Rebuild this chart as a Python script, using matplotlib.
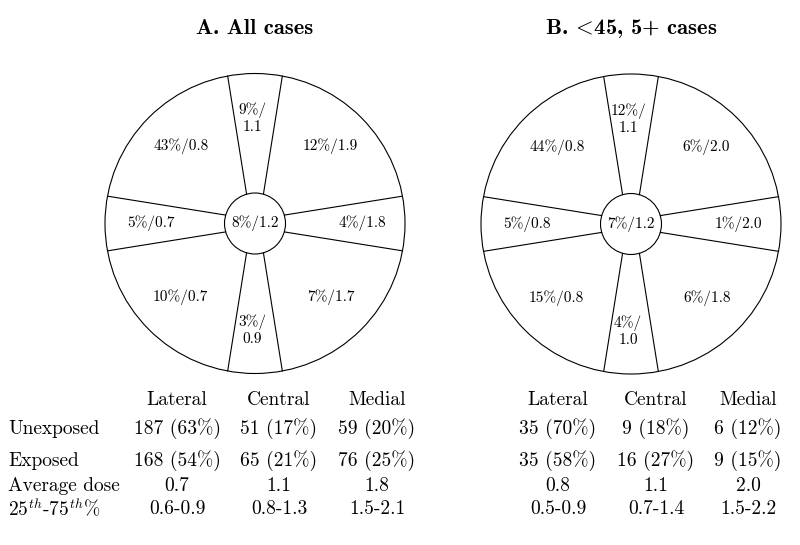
import numpy as np
import matplotlib
matplotlib.use("Agg")
import matplotlib.pyplot as plt
from matplotlib.patches import Circle

plt.rcParams['mathtext.fontset'] = 'cm'
plt.rcParams['font.family'] = 'cmr10'
plt.rcParams['axes.unicode_minus'] = False

# sectors: upper-left, upper-mid, upper-right, left, centre, right, lower-left, lower-mid, lower-right
pct_A = [43, 9, 12, 5, 8, 4, 10, 3, 7]
dose_A = [0.8, 1.1, 1.9, 0.7, 1.2, 1.8, 0.7, 0.9, 1.7]
pct_B = [44, 12, 6, 5, 7, 1, 15, 4, 6]
dose_B = [0.8, 1.1, 2.0, 0.8, 1.2, 2.0, 0.8, 1.0, 1.8]

columns = ['Lateral', 'Central', 'Medial']
row_labels = ['Unexposed', 'Exposed', 'Average dose', r'25$^{th}$-75$^{th}$%']

unexp_n_A = [187, 51, 59]
unexp_pct_A = [63, 17, 20]
exp_n_A = [168, 65, 76]
exp_pct_A = [54, 21, 25]
avg_A = [0.7, 1.1, 1.8]
iqr_A = ['0.6-0.9', '0.8-1.3', '1.5-2.1']

unexp_n_B = [35, 9, 6]
unexp_pct_B = [70, 18, 12]
exp_n_B = [35, 16, 9]
exp_pct_B = [58, 27, 15]
avg_B = [0.8, 1.1, 2.0]
iqr_B = ['0.5-0.9', '0.7-1.4', '1.5-2.2']

fig = plt.figure(figsize=(8, 5.45), dpi=100)
ax = fig.add_axes([0, 0, 1, 1])
ax.set_xlim(0, 800)
ax.set_ylim(545, 0)
ax.axis('off')

R, r = 150, 30.5
a_out, a_in = np.radians(10.5), np.radians(16)

# label offsets (dx, dy) relative to centre, per sector
offs = [(-74, -77), (-3, -105), (75, -77),
        (-104, 0), (0, 0), (107, 0),
        (-75, 74), (-3, 107), (76, 74)]


def wheel(cx, cy, title, pcts, doses):
    ax.add_patch(Circle((cx, cy), R, fill=False, lw=0.8, ec='black'))
    ax.add_patch(Circle((cx, cy), r, fill=False, lw=0.8, ec='black'))
    # 8 spokes: around each axis direction
    for base in [90, 270, 0, 180]:
        b = np.radians(base)
        for s in (-1, 1):
            ti = b + s * a_in
            to = b + s * a_out
            ax.plot([cx + r * np.cos(ti), cx + R * np.cos(to)],
                    [cy - r * np.sin(ti), cy - R * np.sin(to)],
                    color='black', lw=0.8)
    for i, (p, d) in enumerate(zip(pcts, doses)):
        dx, dy = offs[i]
        if i in (1, 7):
            s = f'{p}%/\n{d:.1f}'
        else:
            s = f'{p}%/{d:.1f}'
        ax.text(cx + dx, cy + dy, s, ha='center', va='center', fontsize=11,
                multialignment='center', linespacing=1.2)
    ax.text(cx, 28, title, ha='center', va='center', fontsize=16.3,
            family='cmb10')


wheel(255, 223.5, 'A. All cases', pct_A, dose_A)
wheel(631, 224, r'B. $\!<\!$45, 5+ cases', pct_B, dose_B)

rows_y = [400, 429, 461, 486, 509]


def table(xs, un, up, en, ep, avg, iqr):
    for j, c in enumerate(columns):
        ax.text(xs[j], rows_y[0], c, ha='center', va='center', fontsize=14)
        ax.text(xs[j], rows_y[1], f'{un[j]} ({up[j]}%)', ha='center', va='center', fontsize=14)
        ax.text(xs[j], rows_y[2], f'{en[j]} ({ep[j]}%)', ha='center', va='center', fontsize=14)
        ax.text(xs[j], rows_y[3], f'{avg[j]:.1f}', ha='center', va='center', fontsize=14)
        ax.text(xs[j], rows_y[4], iqr[j], ha='center', va='center', fontsize=14)


for k, lab in enumerate(row_labels):
    ax.text(8, rows_y[k + 1], lab, ha='left', va='center', fontsize=14)

table([177, 279, 377], unexp_n_A, unexp_pct_A, exp_n_A, exp_pct_A, avg_A, iqr_A)
table([558, 656, 748], unexp_n_B, unexp_pct_B, exp_n_B, exp_pct_B, avg_B, iqr_B)

fig.savefig('out.png', dpi=100)
